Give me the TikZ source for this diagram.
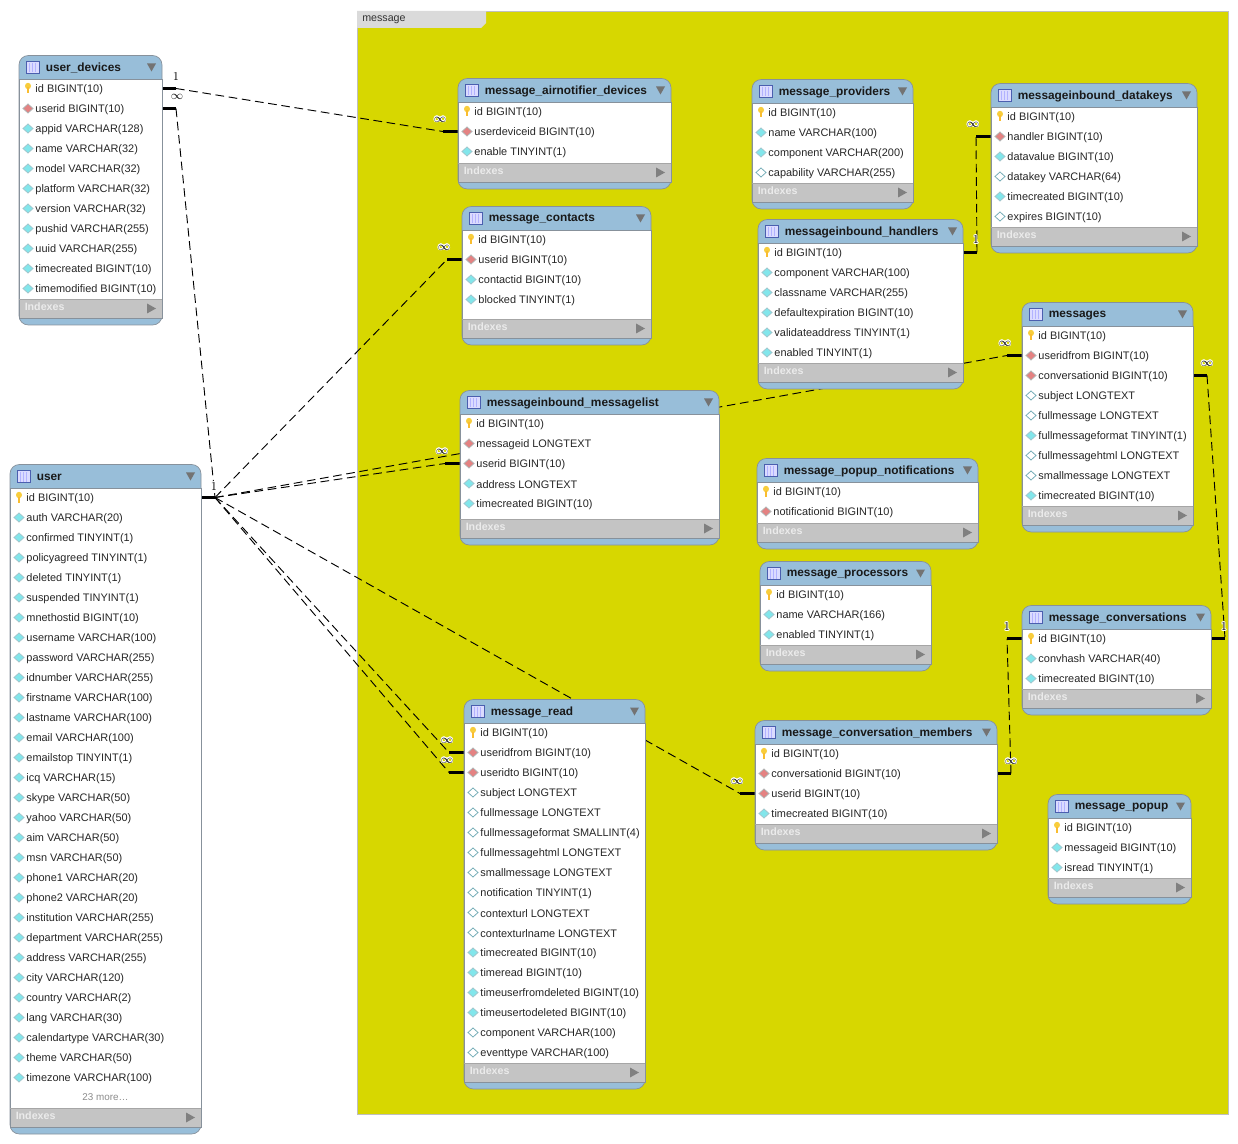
\documentclass[tikz,border=0pt]{standalone}
\usepackage{fontspec}
\setmainfont{Liberation Sans}
\usepackage[copies]{contour}
\contourlength{0.5pt}
\usetikzlibrary{backgrounds}
\definecolor{groupyellow}{RGB}{215,215,0}
\definecolor{tabgrey}{RGB}{218,218,218}
\definecolor{headblue}{RGB}{152,190,217}
\definecolor{framegrey}{RGB}{135,145,155}
\definecolor{indexgrey}{RGB}{196,196,196}
\definecolor{keyyellow}{RGB}{248,205,60}
\definecolor{fkred}{RGB}{228,130,130}
\definecolor{colcyan}{RGB}{130,230,235}
\definecolor{colteal}{RGB}{120,175,185}
\definecolor{iconblue}{RGB}{75,95,175}
\tikzset{
    tableframe/.style={draw=framegrey, line width=0.5pt, fill=headblue, rounded corners=7},
    tabletitle/.style={anchor=west, inner sep=0pt, font=\bfseries\fontsize{8.9}{10}\selectfont, text=black!90},
    rowtext/.style={anchor=west, inner sep=0pt, yshift=-0.75pt, font=\fontsize{8.2}{10}\selectfont, text=black!85},
    moretext/.style={inner sep=0pt, font=\fontsize{7.4}{10}\selectfont, text=black!45},
    indextext/.style={anchor=west, inner sep=0pt, font=\bfseries\fontsize{8}{10}\selectfont, text=white!92!black},
    stubline/.style={line width=2.3pt, black},
    linkline/.style={line width=0.7pt, black, dash pattern=on 6.5pt off 3.5pt},
    cardlabel/.style={inner sep=0pt, font=\fontsize{9}{10}\selectfont},
}
% one column mark per kind of column
\newcommand{\diamondmark}[4]{\filldraw[draw=#3, fill=#4, line width=0.6pt] (#1-5,#2) -- (#1,#2-4.5) -- (#1+5,#2) -- (#1,#2+4.5) -- cycle;}
\newcommand{\markk}[2]{%
    \fill[keyyellow] (#1,#2-2.5) ellipse (3 and 3.2);
    \fill[keyyellow!80!orange] (#1-1.3,#2-1) rectangle (#1+1.1,#2+5);}
\newcommand{\markr}[2]{\diamondmark{#1}{#2}{black!30}{fkred}}
\newcommand{\markc}[2]{\diamondmark{#1}{#2}{colteal!70}{colcyan}}
\newcommand{\markw}[2]{\diamondmark{#1}{#2}{colteal}{white}}
\def\morekind{m}
% name, left, right, top, bottom, title, rows
\newcommand{\dbtable}[7]{%
    \draw[tableframe] (#2,#4) rectangle (#3,#5);
    \fill[white] (#2,#4+24) rectangle (#3,#5-26);
    \fill[indexgrey] (#2,#5-26) rectangle (#3,#5-7);
    \draw[framegrey, line width=0.5pt] (#2,#4+24) -- (#2,#5-7) -- (#3,#5-7) -- (#3,#4+24) -- cycle;
    \draw[black!35, line width=0.5pt] (#2,#5-26) -- (#3,#5-26);
    % table icon
    \draw[iconblue, fill=blue!14, line width=0.6pt] (#2+7,#4+5.5) rectangle (#2+20,#4+18);
    \foreach \c in {10.5,13.5,16.5} \draw[blue!30, line width=0.5pt] (#2+\c,#4+7.5) -- (#2+\c,#4+17);
    \node[tabletitle] (#1) at (#2+26.5,#4+12.7) {#6};
    \fill[black!55] (#3-15,#4+8) -- (#3-6,#4+8) -- (#3-10.5,#4+16) -- cycle;
    % column rows
    \foreach \kind/\txt [count=\i] in {#7} {
        \pgfmathsetmacro{\rowy}{#4+33+20*(\i-1)}
        \coordinate (#1-\i-l) at (#2,\rowy);
        \coordinate (#1-\i-r) at (#3,\rowy);
        \coordinate (#1-\i-l-s) at (#2-15,\rowy);
        \coordinate (#1-\i-r-s) at (#3+14,\rowy);
        \ifx\kind\morekind
            \node[moretext] (#1-\i) at ({(#2+#3)/2},\rowy) {\txt};
        \else
            \csname mark\kind\endcsname{#2+9}{\rowy}
            \node[rowtext] (#1-\i) at (#2+16.2,\rowy) {\txt};
        \fi
    }
    % indexes bar
    \node[indextext] (#1-indexes) at (#2+5.5,#5-18.5) {Indexes};
    \fill[black!50] (#3-15,#5-21.5) -- (#3-6,#5-16.5) -- (#3-15,#5-11.5) -- cycle;
}
\newcommand{\relation}[2]{%
    \draw[linkline] (#1-s) -- (#2-s);
    \draw[stubline] (#1) -- (#1-s);
    \draw[stubline] (#2) -- (#2-s);
}
\newcommand{\card}[3]{\node[cardlabel] (#1) at (#2) {\contour{white}{$#3$}};}

\begin{document}
\begin{tikzpicture}[x=0.75pt,y=-0.75pt]
    \useasboundingbox (0,0) rectangle (1238,1144);
    % Tables outside the group
    \dbtable{userdevices}{19}{162}{55.5}{325}{user\_devices}{k/id BIGINT(10),r/userid BIGINT(10),c/appid VARCHAR(128),c/name VARCHAR(32),c/model VARCHAR(32),c/platform VARCHAR(32),c/version VARCHAR(32),c/pushid VARCHAR(255),c/uuid VARCHAR(255),c/timecreated BIGINT(10),c/timemodified BIGINT(10)}
    \dbtable{user}{10}{201}{464.5}{1134}{user}{k/id BIGINT(10),c/auth VARCHAR(20),c/confirmed TINYINT(1),c/policyagreed TINYINT(1),c/deleted TINYINT(1),c/suspended TINYINT(1),c/mnethostid BIGINT(10),c/username VARCHAR(100),c/password VARCHAR(255),c/idnumber VARCHAR(255),c/firstname VARCHAR(100),c/lastname VARCHAR(100),c/email VARCHAR(100),c/emailstop TINYINT(1),c/icq VARCHAR(15),c/skype VARCHAR(50),c/yahoo VARCHAR(50),c/aim VARCHAR(50),c/msn VARCHAR(50),c/phone1 VARCHAR(20),c/phone2 VARCHAR(20),c/institution VARCHAR(255),c/department VARCHAR(255),c/address VARCHAR(255),c/city VARCHAR(120),c/country VARCHAR(2),c/lang VARCHAR(30),c/calendartype VARCHAR(30),c/theme VARCHAR(50),c/timezone VARCHAR(100),m/23 more\ldots}

    % Tables in the group
    \dbtable{airnotifier}{458}{671}{78.5}{189}{message\_airnotifier\_devices}{k/id BIGINT(10),r/userdeviceid BIGINT(10),c/enable TINYINT(1)}
    \dbtable{contacts}{462}{651}{206.5}{345}{message\_contacts}{k/id BIGINT(10),r/userid BIGINT(10),c/contactid BIGINT(10),c/blocked TINYINT(1)}
    \dbtable{providers}{752}{913}{79.5}{209}{message\_providers}{k/id BIGINT(10),c/name VARCHAR(100),c/component VARCHAR(200),w/capability VARCHAR(255)}
    \dbtable{datakeys}{991}{1197}{83.5}{253}{messageinbound\_datakeys}{k/id BIGINT(10),r/handler BIGINT(10),c/datavalue BIGINT(10),w/datakey VARCHAR(64),c/timecreated BIGINT(10),w/expires BIGINT(10)}
    \dbtable{handlers}{758}{963}{219.5}{389}{messageinbound\_handlers}{k/id BIGINT(10),c/component VARCHAR(100),c/classname VARCHAR(255),c/defaultexpiration BIGINT(10),c/validateaddress TINYINT(1),c/enabled TINYINT(1)}
    \dbtable{messages}{1022}{1193}{302.5}{532}{messages}{k/id BIGINT(10),r/useridfrom BIGINT(10),r/conversationid BIGINT(10),w/subject LONGTEXT,w/fullmessage LONGTEXT,c/fullmessageformat TINYINT(1),w/fullmessagehtml LONGTEXT,w/smallmessage LONGTEXT,c/timecreated BIGINT(10)}
    \dbtable{messagelist}{460}{719}{390.5}{545}{messageinbound\_messagelist}{k/id BIGINT(10),r/messageid LONGTEXT,r/userid BIGINT(10),c/address LONGTEXT,c/timecreated BIGINT(10)}
    \dbtable{popupnotif}{757}{978}{458.5}{549}{message\_popup\_notifications}{k/id BIGINT(10),r/notificationid BIGINT(10)}
    \dbtable{processors}{760}{931}{561.5}{671}{message\_processors}{k/id BIGINT(10),c/name VARCHAR(166),c/enabled TINYINT(1)}
    \dbtable{conversations}{1022}{1211}{605.5}{715}{message\_conversations}{k/id BIGINT(10),c/convhash VARCHAR(40),c/timecreated BIGINT(10)}
    \dbtable{msgread}{464}{645}{699.5}{1089}{message\_read}{k/id BIGINT(10),r/useridfrom BIGINT(10),r/useridto BIGINT(10),w/subject LONGTEXT,w/fullmessage LONGTEXT,w/fullmessageformat SMALLINT(4),w/fullmessagehtml LONGTEXT,w/smallmessage LONGTEXT,w/notification TINYINT(1),w/contexturl LONGTEXT,w/contexturlname LONGTEXT,c/timecreated BIGINT(10),c/timeread BIGINT(10),c/timeuserfromdeleted BIGINT(10),c/timeusertodeleted BIGINT(10),w/component VARCHAR(100),w/eventtype VARCHAR(100)}
    \dbtable{members}{755}{997}{720.5}{850}{message\_conversation\_members}{k/id BIGINT(10),r/conversationid BIGINT(10),r/userid BIGINT(10),c/timecreated BIGINT(10)}
    \dbtable{popup}{1048}{1191}{794.5}{904}{message\_popup}{k/id BIGINT(10),c/messageid BIGINT(10),c/isread TINYINT(1)}

    \begin{scope}[on background layer]
        % Group
        \draw[draw=black!25, fill=groupyellow, line width=0.7pt] (357,11) rectangle (1228,1114);
        \fill[tabgrey] (357,11) -- (486,11) -- (486,23) -- (481,28) -- (357,28) -- cycle;
        % Relations
        \relation{userdevices-1-r}{airnotifier-2-l}
        \relation{userdevices-2-r}{user-1-r}
        \relation{user-1-r}{contacts-2-l}
        \relation{user-1-r}{messagelist-3-l}
        \relation{user-1-r}{messages-2-l}
        \relation{user-1-r}{msgread-2-l}
        \relation{user-1-r}{msgread-3-l}
        \relation{user-1-r}{members-3-l}
        \relation{handlers-1-r}{datakeys-2-l}
        \relation{messages-3-r}{conversations-1-r}
        \relation{members-2-r}{conversations-1-l}
    \end{scope}
    \node[inner sep=0pt, anchor=west, font=\fontsize{8}{10}\selectfont, text=black!80] (grouplabel) at (362,19.5) {message};

    % Cardinality labels
    \card{c1}{176,77}{1}
    \card{c2}{177,97}{\infty}
    \card{c3}{440,120}{\infty}
    \card{c4}{214,487}{1}
    \card{c5}{444,248}{\infty}
    \card{c6}{442,452}{\infty}
    \card{c7}{1005,344}{\infty}
    \card{c8}{447,741}{\infty}
    \card{c9}{447,761}{\infty}
    \card{c10}{737,782}{\infty}
    \card{c11}{973,125}{\infty}
    \card{c12}{976,240}{1}
    \card{c13}{1207,364}{\infty}
    \card{c14}{1224,627}{1}
    \card{c15}{1007,627}{1}
    \card{c16}{1011,762}{\infty}
\end{tikzpicture}
\end{document}
